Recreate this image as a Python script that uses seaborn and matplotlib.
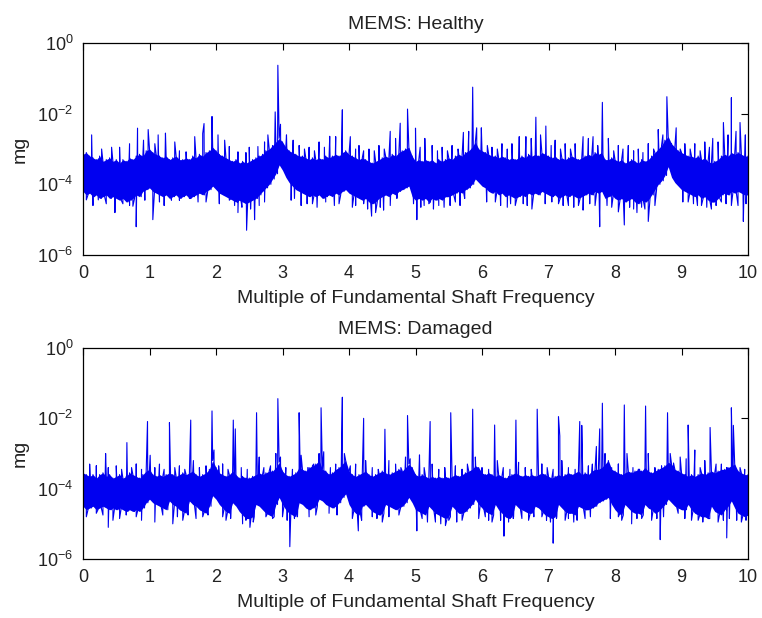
import numpy as np
import pandas as pd
import matplotlib
matplotlib.use("Agg")
import matplotlib.pyplot as plt
import seaborn as sns
from matplotlib.ticker import FixedLocator, NullLocator, FixedFormatter

# ---------------------------------------------------------------------------
# Spectrum data, in log10(mg).  The noise floor is described by its upper and
# lower edge every 0.05 shaft orders; discrete tones and deep notches are
# listed separately as (order, log10 amplitude).
# ---------------------------------------------------------------------------
STEP = 0.05

healthy_floor_hi = [
    -3.15, -3.1, -3.2, -3.25, -3.3, -3.2, -3.35, -3.3, -3.25, -3.35,
    -3.3, -3.4, -3.3, -3.35, -3.25, -3.3, -3.2, -3.15, -3.2, -3.05,
    -3.0, -3.1, -3.15, -3.2, -3.25, -3.2, -3.3, -3.25, -3.2, -3.3,
    -3.3, -3.25, -3.3, -3.2, -3.25, -3.15, -3.2, -3.1, -3.05, -2.95,
    -3.05, -3.15, -3.2, -3.25, -3.3, -3.35, -3.3, -3.4, -3.35, -3.4,
    -3.35, -3.3, -3.25, -3.2, -3.15, -3.05, -3.0, -2.9, -2.8, -2.7,
    -2.8, -2.95, -3.05, -3.1, -3.15, -3.2, -3.2, -3.25, -3.3, -3.25,
    -3.3, -3.25, -3.3, -3.2, -3.25, -3.2, -3.15, -3.2, -3.1, -3.05,
    -3.15, -3.2, -3.25, -3.3, -3.25, -3.3, -3.35, -3.4, -3.35, -3.3,
    -3.25, -3.2, -3.25, -3.15, -3.2, -3.1, -3.05, -3.0, -2.95, -3.2,
    -3.35, -3.3, -3.35, -3.3, -3.35, -3.3, -3.4, -3.3, -3.35, -3.3,
    -3.25, -3.3, -3.2, -3.15, -3.2, -3.1, -3.05, -2.95, -2.8, -3.0,
    -3.05, -3.1, -3.15, -3.2, -3.2, -3.25, -3.2, -3.25, -3.3, -3.25,
    -3.3, -3.25, -3.2, -3.25, -3.15, -3.2, -3.15, -3.2, -3.1, -3.15,
    -3.2, -3.25, -3.2, -3.3, -3.25, -3.3, -3.25, -3.2, -3.25, -3.3,
    -3.25, -3.2, -3.15, -3.2, -3.1, -3.15, -3.1, -3.3, -3.3, -3.25,
    -3.3, -3.35, -3.3, -3.4, -3.35, -3.3, -3.35, -3.4, -3.3, -3.35,
    -3.3, -3.2, -3.1, -3.0, -2.9, -2.75, -2.65, -2.85, -2.95, -3.05,
    -3.1, -3.15, -3.2, -3.2, -3.25, -3.2, -3.3, -3.25, -3.35, -3.4,
    -3.35, -3.3, -3.2, -3.15, -3.2, -3.1, -3.15, -3.1, -3.15, -3.2,
    -3.2,
]

healthy_floor_lo = [
    -4.2, -4.3, -4.25, -4.35, -4.3, -4.4, -4.35, -4.3, -4.4, -4.35,
    -4.4, -4.45, -4.4, -4.5, -4.45, -4.4, -4.3, -4.35, -4.2, -4.15,
    -4.1, -4.2, -4.25, -4.3, -4.35, -4.3, -4.4, -4.35, -4.3, -4.4,
    -4.35, -4.3, -4.4, -4.35, -4.3, -4.25, -4.3, -4.2, -4.15, -4.05,
    -4.15, -4.25, -4.3, -4.35, -4.4, -4.45, -4.5, -4.45, -4.5, -4.55,
    -4.5, -4.45, -4.4, -4.3, -4.2, -4.1, -4.0, -3.85, -3.7, -3.45,
    -3.6, -3.8, -3.95, -4.05, -4.15, -4.2, -4.25, -4.3, -4.35, -4.3,
    -4.35, -4.3, -4.4, -4.35, -4.3, -4.35, -4.25, -4.3, -4.2, -4.15,
    -4.25, -4.3, -4.35, -4.4, -4.45, -4.4, -4.5, -4.55, -4.5, -4.4,
    -4.35, -4.3, -4.35, -4.25, -4.3, -4.2, -4.15, -4.1, -4.05, -4.35,
    -4.45, -4.4, -4.45, -4.4, -4.5, -4.4, -4.45, -4.4, -4.45, -4.35,
    -4.35, -4.3, -4.25, -4.2, -4.25, -4.15, -4.1, -4.0, -3.85, -3.95,
    -4.05, -4.1, -4.2, -4.25, -4.2, -4.3, -4.25, -4.35, -4.3, -4.35,
    -4.4, -4.35, -4.3, -4.35, -4.25, -4.3, -4.25, -4.3, -4.2, -4.25,
    -4.3, -4.35, -4.3, -4.4, -4.35, -4.3, -4.35, -4.3, -4.35, -4.4,
    -4.35, -4.3, -4.25, -4.3, -4.2, -4.25, -4.2, -4.4, -4.35, -4.3,
    -4.4, -4.45, -4.4, -4.5, -4.45, -4.4, -4.5, -4.55, -4.45, -4.5,
    -4.45, -4.3, -4.15, -4.0, -3.9, -3.75, -3.5, -3.8, -3.95, -4.05,
    -4.15, -4.2, -4.25, -4.3, -4.35, -4.3, -4.4, -4.35, -4.45, -4.5,
    -4.5, -4.4, -4.3, -4.25, -4.3, -4.2, -4.25, -4.2, -4.25, -4.3,
    -4.3,
]

healthy_tone_x = [
    0.13, 0.28, 0.43, 0.55, 0.70, 0.82, 0.91, 0.98, 1.08, 1.13,
    1.24, 1.38, 1.45, 1.55, 1.68, 1.80, 1.82, 1.94, 2.03, 2.13,
    2.20, 2.33, 2.45, 2.50, 2.63, 2.73, 2.78, 2.89, 2.93, 2.97,
    3.06, 3.16, 3.25, 3.33, 3.40, 3.48, 3.55, 3.63, 3.71, 3.80,
    3.90, 4.02, 4.10, 4.15, 4.22, 4.30, 4.38, 4.45, 4.53, 4.62,
    4.70, 4.77, 4.88, 5.00, 5.07, 5.14, 5.25, 5.33, 5.40, 5.48,
    5.55, 5.64, 5.72, 5.80, 5.86, 5.92, 5.99, 6.08, 6.15, 6.23,
    6.30, 6.38, 6.45, 6.56, 6.66, 6.74, 6.81, 6.88, 6.96, 7.04,
    7.10, 7.18, 7.25, 7.33, 7.40, 7.52, 7.60, 7.67, 7.74, 7.81,
    7.90, 7.98, 8.05, 8.12, 8.20, 8.28, 8.35, 8.42, 8.50, 8.58,
    8.65, 8.72, 8.78, 8.85, 8.92, 8.98, 9.05, 9.13, 9.20, 9.28,
    9.35, 9.42, 9.47, 9.55, 9.63, 9.70, 9.75, 9.82, 9.88, 9.96,
]
healthy_tone_db = [
    -2.6, -3.0, -2.95, -2.95, -2.85, -2.41, -2.75, -2.45, -2.85, -2.6,
    -2.55, -2.8, -3.05, -3.08, -2.65, -2.56, -2.28, -2.08, -2.6, -2.75,
    -2.93, -3.08, -3.1, -2.95, -2.93, -2.8, -2.6, -1.95, -0.63, -2.3,
    -2.6, -2.75, -2.9, -3.0, -2.95, -3.05, -2.8, -2.95, -2.64, -2.65,
    -1.89, -2.65, -3.0, -2.9, -3.05, -3.0, -3.05, -2.9, -3.0, -2.5,
    -2.7, -2.27, -1.87, -2.41, -2.95, -2.7, -2.9, -3.05, -2.95, -3.05,
    -2.9, -3.0, -2.53, -2.5, -1.25, -2.4, -2.4, -2.9, -2.95, -3.0,
    -2.85, -3.0, -2.85, -2.65, -2.65, -2.7, -2.1, -2.6, -2.35, -2.9,
    -2.75, -3.0, -2.85, -3.0, -2.85, -2.65, -2.7, -2.65, -2.9, -1.68,
    -2.7, -3.05, -2.9, -3.0, -2.9, -3.05, -3.0, -3.1, -2.85, -3.0,
    -2.45, -2.6, -1.52, -2.9, -2.4, -3.0, -2.85, -3.0, -2.85, -3.05,
    -2.8, -2.95, -2.7, -2.8, -2.25, -2.6, -1.55, -2.5, -2.25, -2.6,
]

healthy_notch_x = [
    0.05, 0.15, 0.23, 0.35, 0.48, 0.60, 0.70, 0.75, 0.80, 0.93,
    1.05, 1.15, 1.22, 1.33, 1.45, 1.60, 1.73, 1.85, 2.05, 2.20,
    2.28, 2.33, 2.39, 2.46, 2.52, 2.58, 2.65, 2.73, 3.13, 3.18,
    3.28, 3.37, 3.45, 3.52, 3.65, 3.78, 3.85, 4.05, 4.10, 4.22,
    4.28, 4.34, 4.40, 4.47, 4.52, 4.62, 4.72, 4.97, 5.02, 5.08,
    5.13, 5.20, 5.27, 5.35, 5.43, 5.52, 5.60, 5.67, 5.74, 6.07,
    6.20, 6.28, 6.38, 6.43, 6.50, 6.62, 6.68, 6.75, 6.95, 7.05,
    7.15, 7.22, 7.30, 7.38, 7.45, 7.52, 7.62, 7.70, 7.77, 7.88,
    7.95, 8.05, 8.14, 8.22, 8.28, 8.33, 8.40, 8.45, 8.50, 8.60,
    9.02, 9.10, 9.18, 9.24, 9.30, 9.38, 9.45, 9.52, 9.60, 9.67,
    9.75, 9.85, 9.93, 9.97,
]
healthy_notch_db = [
    -4.44, -4.6, -4.44, -4.55, -4.8, -4.55, -4.6, -4.62, -5.2, -4.45,
    -5.0, -4.5, -4.6, -4.45, -4.45, -4.4, -4.5, -4.5, -4.55, -4.45,
    -4.6, -4.8, -4.65, -5.3, -4.7, -5.0, -4.6, -4.5, -4.45, -4.4,
    -4.6, -4.55, -4.55, -4.65, -4.5, -4.6, -4.55, -4.65, -4.6, -4.55,
    -4.7, -4.9, -4.8, -4.65, -4.73, -4.6, -4.4, -4.55, -5.0, -4.65,
    -4.6, -4.55, -4.7, -4.6, -4.65, -4.6, -4.5, -4.6, -4.4, -4.5,
    -4.5, -4.6, -4.65, -4.55, -4.6, -4.55, -4.6, -4.7, -4.55, -4.5,
    -4.55, -4.6, -4.6, -4.65, -4.6, -4.73, -4.55, -4.6, -5.2, -4.6,
    -4.65, -4.78, -5.15, -4.65, -4.7, -4.8, -4.65, -4.7, -5.05, -4.6,
    -4.5, -4.5, -4.55, -4.6, -4.6, -4.65, -4.7, -4.6, -4.5, -4.55,
    -4.6, -4.6, -5.05, -4.55,
]

damaged_floor_hi = [
    -3.55, -3.6, -3.65, -3.6, -3.7, -3.6, -3.55, -3.65, -3.6, -3.7,
    -3.65, -3.6, -3.7, -3.65, -3.55, -3.6, -3.65, -3.7, -3.6, -3.5,
    -3.45, -3.6, -3.65, -3.6, -3.65, -3.6, -3.55, -3.6, -3.65, -3.6,
    -3.55, -3.6, -3.55, -3.5, -3.6, -3.65, -3.6, -3.55, -3.45, -3.2,
    -3.4, -3.55, -3.6, -3.65, -3.6, -3.5, -3.6, -3.7, -3.65, -3.7,
    -3.7, -3.65, -3.6, -3.55, -3.6, -3.55, -3.5, -3.5, -3.4, -3.25,
    -3.5, -3.6, -3.65, -3.6, -3.55, -3.4, -3.45, -3.5, -3.4, -3.35,
    -3.3, -3.2, -3.45, -3.5, -3.6, -3.55, -3.45, -3.4, -3.3, -3.2,
    -3.5, -3.6, -3.65, -3.6, -3.55, -3.5, -3.6, -3.65, -3.6, -3.55,
    -3.5, -3.55, -3.6, -3.55, -3.5, -3.45, -3.5, -3.4, -3.3, -3.4,
    -3.6, -3.65, -3.6, -3.65, -3.7, -3.65, -3.7, -3.65, -3.7, -3.65,
    -3.7, -3.65, -3.6, -3.65, -3.6, -3.55, -3.5, -3.45, -3.35, -3.4,
    -3.55, -3.6, -3.55, -3.6, -3.65, -3.6, -3.65, -3.7, -3.65, -3.6,
    -3.55, -3.6, -3.65, -3.6, -3.65, -3.6, -3.65, -3.6, -3.55, -3.6,
    -3.65, -3.7, -3.65, -3.6, -3.65, -3.6, -3.55, -3.6, -3.55, -3.5,
    -3.6, -3.55, -3.6, -3.5, -3.45, -3.45, -3.4, -3.3, -3.2, -3.45,
    -3.5, -3.55, -3.6, -3.55, -3.5, -3.55, -3.5, -3.45, -3.5, -3.4,
    -3.5, -3.55, -3.5, -3.45, -3.4, -3.35, -3.25, -3.3, -3.45, -3.5,
    -3.55, -3.6, -3.65, -3.6, -3.65, -3.6, -3.55, -3.6, -3.55, -3.5,
    -3.55, -3.5, -3.45, -3.45, -3.4, -3.35, -3.3, -3.5, -3.55, -3.6,
    -3.6,
]

damaged_floor_lo = [
    -4.5, -4.6, -4.55, -4.5, -4.6, -4.55, -4.5, -4.55, -4.6, -4.55,
    -4.6, -4.55, -4.6, -4.65, -4.6, -4.65, -4.6, -4.65, -4.55, -4.4,
    -4.3, -4.4, -4.45, -4.5, -4.55, -4.6, -4.35, -4.45, -4.5, -4.6,
    -4.65, -4.7, -4.35, -4.45, -4.5, -4.6, -4.65, -4.7, -4.5, -4.2,
    -4.3, -4.45, -4.55, -4.65, -4.7, -4.4, -4.5, -4.65, -4.75, -4.85,
    -4.85, -4.8, -4.45, -4.5, -4.6, -4.7, -4.75, -4.8, -4.45, -4.25,
    -4.45, -4.6, -4.7, -4.75, -4.8, -4.4, -4.45, -4.55, -4.6, -4.55,
    -4.5, -4.3, -4.35, -4.45, -4.5, -4.55, -4.5, -4.4, -4.25, -4.15,
    -4.45, -4.6, -4.7, -4.75, -4.5, -4.45, -4.55, -4.65, -4.7, -4.75,
    -4.7, -4.45, -4.5, -4.55, -4.6, -4.55, -4.5, -4.4, -4.25, -4.4,
    -4.6, -4.65, -4.7, -4.75, -4.5, -4.6, -4.7, -4.75, -4.8, -4.85,
    -4.8, -4.5, -4.6, -4.7, -4.7, -4.65, -4.55, -4.45, -4.3, -4.45,
    -4.55, -4.65, -4.7, -4.75, -4.45, -4.6, -4.7, -4.8, -4.85, -4.8,
    -4.45, -4.55, -4.6, -4.65, -4.7, -4.7, -4.5, -4.55, -4.65, -4.75,
    -4.8, -4.85, -4.8, -4.45, -4.55, -4.65, -4.7, -4.7, -4.75, -4.5,
    -4.55, -4.6, -4.6, -4.55, -4.5, -4.4, -4.35, -4.3, -4.25, -4.45,
    -4.6, -4.7, -4.75, -4.45, -4.55, -4.65, -4.7, -4.7, -4.75, -4.45,
    -4.55, -4.6, -4.7, -4.65, -4.55, -4.45, -4.3, -4.4, -4.5, -4.55,
    -4.6, -4.6, -4.45, -4.6, -4.7, -4.75, -4.8, -4.8, -4.85, -4.5,
    -4.65, -4.7, -4.75, -4.6, -4.5, -4.35, -4.55, -4.7, -4.75, -4.8,
    -4.75,
]

damaged_tone_x = [
    0.10, 0.20, 0.34, 0.38, 0.50, 0.58, 0.66, 0.73, 0.80, 0.88,
    0.97, 1.01, 1.08, 1.15, 1.22, 1.30, 1.38, 1.45, 1.53, 1.62,
    1.66, 1.75, 1.85, 1.94, 1.97, 2.04, 2.10, 2.18, 2.26, 2.29,
    2.38, 2.47, 2.61, 2.65, 2.72, 2.82, 2.90, 2.93, 2.97, 3.05,
    3.15, 3.25, 3.28, 3.38, 3.47, 3.55, 3.58, 3.62, 3.72, 3.80,
    3.90, 3.93, 4.02, 4.10, 4.22, 4.25, 4.35, 4.44, 4.54, 4.60,
    4.70, 4.78, 4.85, 4.88, 4.92, 5.06, 5.13, 5.22, 5.25, 5.35,
    5.44, 5.53, 5.60, 5.70, 5.78, 5.86, 5.90, 6.00, 6.10, 6.19,
    6.23, 6.32, 6.42, 6.51, 6.55, 6.65, 6.74, 6.83, 6.90, 6.98,
    7.07, 7.15, 7.17, 7.20, 7.30, 7.40, 7.47, 7.50, 7.60, 7.66,
    7.72, 7.77, 7.81, 7.85, 7.95, 8.05, 8.14, 8.18, 8.27, 8.37,
    8.46, 8.50, 8.60, 8.70, 8.79, 8.83, 8.88, 8.98, 9.07, 9.10,
    9.20, 9.28, 9.35, 9.43, 9.52, 9.60, 9.68, 9.75, 9.78, 9.88,
    9.95,
]
damaged_tone_db = [
    -3.3, -3.35, -3.0, -3.4, -3.35, -3.45, -2.69, -3.4, -3.3, -3.45,
    -2.09, -3.05, -3.4, -3.3, -3.45, -2.12, -3.4, -3.35, -3.45, -2.05,
    -3.2, -3.4, -3.35, -1.79, -2.9, -3.35, -3.3, -3.45, -2.05, -2.3,
    -3.4, -3.45, -1.84, -3.1, -3.4, -3.35, -3.0, -1.44, -3.1, -3.4,
    -3.45, -1.84, -3.05, -3.4, -3.3, -3.0, -1.70, -2.95, -3.4, -3.3,
    -1.40, -3.0, -3.35, -3.3, -2.0, -3.2, -3.4, -3.45, -2.31, -3.2,
    -3.3, -3.4, -3.1, -1.92, -3.15, -3.04, -3.4, -2.09, -3.3, -3.45,
    -3.4, -1.84, -3.35, -3.45, -3.3, -1.74, -3.1, -3.4, -3.45, -2.19,
    -3.2, -3.4, -3.45, -2.05, -3.25, -3.4, -3.45, -1.74, -3.3, -3.4,
    -3.45, -1.95, -2.5, -3.2, -3.4, -3.45, -2.09, -2.2, -3.35, -3.3,
    -2.8, -2.3, -1.57, -3.0, -3.4, -3.3, -1.62, -3.0, -3.4, -3.45,
    -1.65, -3.0, -3.4, -3.35, -1.84, -3.0, -3.27, -3.1, -3.15, -2.19,
    -2.9, -3.4, -3.2, -2.26, -3.3, -3.3, -3.4, -1.70, -2.2, -3.4,
    -3.45,
]

damaged_notch_x = [
    0.05, 0.20, 0.30, 0.38, 0.45, 0.55, 0.65, 0.80, 0.88, 1.08,
    1.20, 1.35, 1.42, 1.50, 1.58, 1.70, 1.80, 1.88, 2.10, 2.15,
    2.22, 2.40, 2.45, 2.51, 2.56, 2.75, 2.85, 3.00, 3.07, 3.11,
    3.18, 3.40, 3.50, 3.70, 3.82, 4.05, 4.14, 4.19, 4.35, 4.42,
    4.50, 4.60, 4.75, 5.02, 5.10, 5.18, 5.30, 5.38, 5.45, 5.50,
    5.62, 5.70, 5.95, 6.05, 6.10, 6.15, 6.28, 6.33, 6.40, 6.47,
    6.60, 6.70, 6.78, 6.90, 6.97, 7.03, 7.07, 7.12, 7.25, 7.30,
    7.38, 7.43, 7.55, 7.63, 7.93, 8.05, 8.10, 8.25, 8.33, 8.40,
    8.55, 8.63, 8.68, 8.73, 8.95, 9.05, 9.15, 9.25, 9.32, 9.40,
    9.55, 9.63, 9.68, 9.72, 9.83, 9.90, 9.97,
]
damaged_notch_db = [
    -4.8, -4.7, -4.75, -5.1, -4.9, -4.85, -4.75, -4.8, -4.9, -4.95,
    -4.75, -5.0, -4.8, -4.9, -4.75, -4.85, -4.8, -4.75, -4.8, -4.9,
    -4.85, -5.0, -4.9, -5.1, -4.95, -4.8, -4.85, -4.8, -4.9, -5.65,
    -4.85, -4.8, -4.75, -4.7, -4.75, -4.85, -5.2, -4.9, -4.8, -4.85,
    -4.95, -4.8, -4.75, -5.2, -4.85, -4.95, -4.95, -5.0, -5.05, -4.9,
    -4.95, -4.9, -4.85, -4.8, -4.9, -4.95, -4.9, -5.35, -4.95, -4.85,
    -4.85, -4.9, -4.8, -4.8, -4.9, -4.95, -5.55, -4.85, -4.9, -4.85,
    -4.95, -4.9, -4.85, -4.8, -4.85, -4.8, -4.9, -5.0, -4.85, -4.85,
    -4.9, -4.85, -5.45, -4.8, -4.7, -4.85, -4.9, -4.9, -4.95, -4.85,
    -4.95, -4.9, -5.4, -4.85, -4.9, -4.95, -4.9,
]

TITLES = ["MEMS: Healthy", "MEMS: Damaged"]
XLABEL = "Multiple of Fundamental Shaft Frequency"
YLABEL = "mg"
X_TICKS = list(range(0, 11))
Y_TICKS = [1e-6, 1e-4, 1e-2, 1e0]
Y_TICK_LABELS = [r"$10^{-6}$", r"$10^{-4}$", r"$10^{-2}$", r"$10^{0}$"]
TRACE_COLOR = "#0000f0"


def spectrum_frame(hi, lo, tone_x, tone_db, notch_x, notch_db):
    """Assemble one ordered trace: floor edges alternate, tones and notches
    are slotted in at their own orders."""
    n = len(hi)
    x_hi = np.arange(n) * STEP
    x_lo = x_hi[:-1] + STEP / 2
    xs = np.concatenate([x_hi, x_lo, tone_x, notch_x])
    ls = np.concatenate([hi, lo[:-1], tone_db, notch_db])
    order = np.argsort(xs, kind="stable")
    return pd.DataFrame({"order": xs[order], "mg": 10.0 ** ls[order]})


def floor_frame(hi, lo):
    x = np.arange(len(hi)) * STEP
    return pd.DataFrame({"order": x,
                         "top": 10.0 ** np.asarray(hi),
                         "bottom": 10.0 ** np.asarray(lo)})


panels = [
    (spectrum_frame(healthy_floor_hi, healthy_floor_lo,
                    healthy_tone_x, healthy_tone_db,
                    healthy_notch_x, healthy_notch_db),
     floor_frame(healthy_floor_hi, healthy_floor_lo)),
    (spectrum_frame(damaged_floor_hi, damaged_floor_lo,
                    damaged_tone_x, damaged_tone_db,
                    damaged_notch_x, damaged_notch_db),
     floor_frame(damaged_floor_hi, damaged_floor_lo)),
]

sns.set_theme(style="white")
plt.rcParams["font.family"] = ["Liberation Sans", "DejaVu Sans"]
plt.rcParams["mathtext.fontset"] = "custom"
plt.rcParams["mathtext.rm"] = "Liberation Sans"
plt.rcParams["mathtext.it"] = "Liberation Sans:italic"
plt.rcParams["mathtext.default"] = "regular"

fig = plt.figure(figsize=(7.62, 6.18), dpi=100, facecolor="white")
W, H = 762.0, 618.0
boxes = [(83, 43, 748, 255), (83, 348, 748, 559)]

for (x0, y0, x1, y1), (df, floor), title in zip(boxes, panels, TITLES):
    ax = fig.add_axes([x0 / W, 1 - y1 / H, (x1 - x0) / W, (y1 - y0) / H])
    # dense noise floor
    ax.fill_between(floor["order"], floor["bottom"], floor["top"],
                    color=TRACE_COLOR, linewidth=0)
    # full trace with tones and notches
    sns.lineplot(data=df, x="order", y="mg", ax=ax, estimator=None,
                 sort=False, color=TRACE_COLOR, linewidth=0.8)
    ax.set_yscale("log")
    ax.set_xlim(0, 10)
    ax.set_ylim(1e-6, 1e0)
    ax.xaxis.set_major_locator(FixedLocator(X_TICKS))
    ax.set_xticklabels([str(t) for t in X_TICKS])
    ax.yaxis.set_major_locator(FixedLocator(Y_TICKS))
    ax.yaxis.set_major_formatter(FixedFormatter(Y_TICK_LABELS))
    ax.yaxis.set_minor_locator(NullLocator())
    ax.xaxis.set_minor_locator(NullLocator())
    ax.tick_params(axis="both", which="major", direction="in", length=5,
                   width=0.8, color="black", top=True, right=True,
                   labelsize=13, labelcolor="#222222", pad=7)
    for s in ax.spines.values():
        s.set_visible(True)
        s.set_color("black")
        s.set_linewidth(0.9)
        s.set_zorder(5)
    ax.set_title(title, fontsize=14, color="#222222", pad=10)
    ax.set_xlabel(XLABEL, fontsize=14, color="#222222", labelpad=6)
    ax.set_ylabel(YLABEL, fontsize=14, color="#222222", labelpad=6)
    ax.grid(False)

fig.savefig("out.png", dpi=100, facecolor="white")
